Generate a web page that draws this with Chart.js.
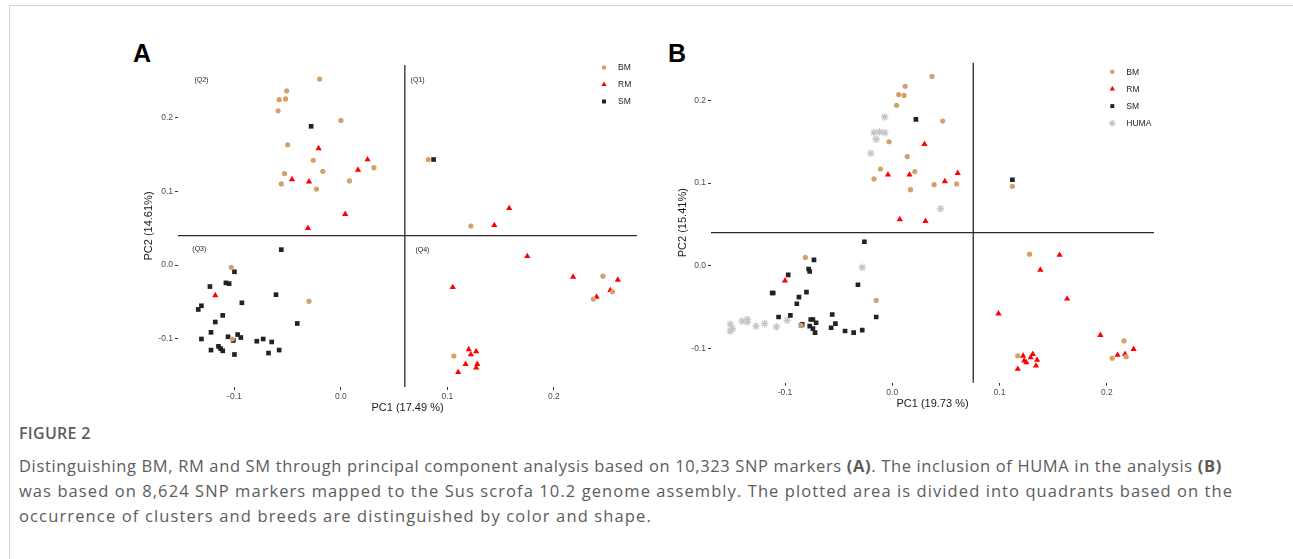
<!DOCTYPE html>
<html>
<head>
<meta charset="utf-8">
<script src="https://cdn.jsdelivr.net/npm/chart.js@4.4.1/dist/chart.umd.min.js"></script>
<style>
  html, body { margin: 0; padding: 0; background: #fff; }
  body { width: 1293px; height: 559px; position: relative; overflow: hidden; font-family: "Liberation Sans", Arial, sans-serif; }
  .frame { position: absolute; left: 9px; top: 5px; width: 1300px; height: 600px; border-top: 1.5px solid #d4d4d4; border-left: 1.5px solid #d4d4d4; }
  canvas { position: absolute; }
  .panel { position: absolute; font-weight: bold; font-size: 25px; color: #000; line-height: 1; }
  .cap { position: absolute; left: 19px; font-family: "Open Sans", "Noto Sans", sans-serif; color: #5c5c5c; white-space: nowrap; }
  .cap-title { top: 422px; font-size: 16px; font-weight: 600; letter-spacing: 0.3px; }
  .cap-text { top: 453px; font-size: 16.5px; line-height: 25px; }
  .cap-text span { display: block; }
</style>
</head>
<body>
<div class="frame"></div>
<div class="panel" style="left:133px; top:41px;">A</div>
<div class="panel" style="left:668px; top:41px;">B</div>
<canvas id="chartA" width="520" height="380" style="left:130px; top:40px;"></canvas>
<canvas id="chartB" width="560" height="380" style="left:660px; top:40px;"></canvas>
<div class="cap cap-title">FIGURE 2</div>
<div class="cap cap-text"><span style="letter-spacing:0.64px">Distinguishing BM, RM and SM through principal component analysis based on 10,323 SNP markers <b>(A)</b>. The inclusion of HUMA in the analysis <b>(B)</b></span><span style="letter-spacing:1.08px">was based on 8,624 SNP markers mapped to the Sus scrofa 10.2 genome assembly. The plotted area is divided into quadrants based on the</span><span style="letter-spacing:1.14px">occurrence of clusters and breeds are distinguished by color and shape.</span></div>

<script>
// panel A: PC1 / PC2 pairs
const bmA = [[-0.020,0.252],[-0.051,0.236],[-0.058,0.224],[-0.052,0.225],[-0.059,0.209],[0.000,0.196],[-0.050,0.163],[-0.026,0.142],[-0.017,0.127],[0.031,0.132],[-0.053,0.124],[-0.056,0.110],[0.008,0.114],[-0.023,0.103],[0.082,0.143],[0.122,0.053],[-0.103,-0.003],[-0.030,-0.049],[-0.102,-0.100],[0.106,-0.123],[0.246,-0.015],[0.237,-0.046],[0.255,-0.036]];
const rmA = [[-0.021,0.158],[0.025,0.143],[0.016,0.129],[-0.046,0.116],[-0.030,0.113],[0.004,0.069],[-0.031,0.050],[0.158,0.077],[0.144,0.054],[0.175,0.012],[-0.118,-0.041],[0.105,-0.030],[0.218,-0.016],[0.260,-0.020],[0.253,-0.034],[0.240,-0.043],[0.120,-0.114],[0.127,-0.117],[0.122,-0.121],[0.117,-0.134],[0.128,-0.134],[0.127,-0.139],[0.110,-0.145]];
const smA = [[-0.028,0.188],[0.087,0.143],[-0.056,0.021],[-0.100,-0.009],[-0.123,-0.029],[-0.108,-0.024],[-0.105,-0.025],[-0.061,-0.040],[-0.093,-0.051],[-0.131,-0.055],[-0.134,-0.060],[-0.111,-0.068],[-0.118,-0.077],[-0.041,-0.079],[-0.122,-0.091],[-0.131,-0.100],[-0.106,-0.097],[-0.101,-0.102],[-0.097,-0.094],[-0.094,-0.098],[-0.079,-0.103],[-0.073,-0.100],[-0.065,-0.104],[-0.115,-0.110],[-0.113,-0.113],[-0.111,-0.116],[-0.122,-0.115],[-0.058,-0.115],[-0.068,-0.119],[-0.100,-0.121]];

// panel B
const bmB = [[0.037,0.229],[0.012,0.217],[0.006,0.207],[0.011,0.206],[0.004,0.194],[0.047,0.175],[-0.003,0.150],[0.014,0.132],[-0.011,0.117],[0.021,0.114],[-0.017,0.105],[0.039,0.098],[0.060,0.099],[0.017,0.092],[0.112,0.096],[-0.081,0.010],[-0.015,-0.042],[-0.085,-0.072],[0.128,0.014],[0.117,-0.109],[0.216,-0.091],[0.205,-0.112],[0.218,-0.110]];
const rmB = [[0.030,0.147],[-0.004,0.110],[0.016,0.110],[0.061,0.112],[0.049,0.102],[0.007,0.056],[0.031,0.054],[-0.100,-0.018],[0.156,0.013],[0.138,-0.005],[0.163,-0.040],[0.099,-0.058],[0.194,-0.084],[0.225,-0.101],[0.217,-0.107],[0.210,-0.108],[0.122,-0.109],[0.131,-0.107],[0.129,-0.111],[0.123,-0.115],[0.135,-0.114],[0.125,-0.117],[0.134,-0.121],[0.117,-0.125]];
const smB = [[0.022,0.177],[0.112,0.104],[-0.026,0.029],[-0.073,0.007],[-0.078,-0.004],[-0.077,-0.007],[-0.097,-0.011],[-0.112,-0.033],[-0.111,-0.033],[-0.080,-0.032],[-0.087,-0.038],[-0.089,-0.046],[-0.032,-0.023],[-0.095,-0.060],[-0.106,-0.062],[-0.056,-0.059],[-0.053,-0.070],[-0.057,-0.075],[-0.084,-0.071],[-0.085,-0.072],[-0.076,-0.065],[-0.074,-0.065],[-0.077,-0.073],[-0.071,-0.069],[-0.074,-0.076],[-0.072,-0.081],[-0.015,-0.062],[-0.044,-0.079],[-0.036,-0.081],[-0.028,-0.078]];
const humaB = [[-0.007,0.180],[-0.017,0.161],[-0.012,0.162],[-0.007,0.161],[-0.015,0.153],[-0.020,0.136],[0.045,0.069],[-0.028,-0.002],[-0.098,-0.066],[-0.108,-0.074],[-0.119,-0.070],[-0.127,-0.073],[-0.135,-0.065],[-0.140,-0.067],[-0.135,-0.068],[-0.151,-0.071],[-0.151,-0.079],[-0.149,-0.076]];

const ticksA = [-0.1, 0.0, 0.1, 0.2];
const ticksB = [-0.1, 0.0, 0.1, 0.2];
const quadA = { x: 0.06, y: 0.04 };
const quadB = { x: 0.0755, y: 0.04 };
const quadLabels = [
  { text: '(Q1)', x: 0.072, y: 0.250 },
  { text: '(Q2)', x: -0.131, y: 0.251 },
  { text: '(Q3)', x: -0.133, y: 0.022 },
  { text: '(Q4)', x: 0.0765, y: 0.020 }
];

const toXY = arr => arr.map(p => ({ x: p[0], y: p[1] }));

const styles = {
  BM: { pointStyle: 'circle', pointRadius: 2.6, pointBackgroundColor: '#d8a068', pointBorderWidth: 0 },
  RM: { pointStyle: 'triangle', pointRadius: 3.6, pointBackgroundColor: '#ff0000', pointBorderWidth: 0 },
  SM: { pointStyle: 'rect', pointRadius: 3.3, pointBackgroundColor: '#222222', pointBorderWidth: 0 },
  HUMA: { pointStyle: 'star', pointRadius: 3.8, pointBackgroundColor: '#c6c6c6', pointBorderColor: '#c6c6c6', pointBorderWidth: 1.3 }
};

function makeSet(label, data) {
  return Object.assign({ label: label, data: toXY(data) }, styles[label]);
}

// quadrant lines + labels
const quadrantPlugin = {
  id: 'quadrants',
  beforeDatasetsDraw(chart, args, opts) {
    const { ctx, chartArea, scales } = chart;
    const px = scales.x.getPixelForValue(opts.x);
    const py = scales.y.getPixelForValue(opts.y);
    ctx.save();
    ctx.strokeStyle = '#2b2b2b';
    ctx.lineWidth = 1.3;
    ctx.beginPath();
    ctx.moveTo(px, chartArea.top);
    ctx.lineTo(px, chartArea.bottom);
    ctx.moveTo(chartArea.left, py);
    ctx.lineTo(chartArea.right, py);
    ctx.stroke();
    if (opts.labels) {
      ctx.fillStyle = '#222';
      ctx.font = '7px "Liberation Sans", Arial, sans-serif';
      ctx.textAlign = 'center';
      ctx.textBaseline = 'middle';
      opts.labels.forEach(l => {
        ctx.fillText(l.text, scales.x.getPixelForValue(l.x), scales.y.getPixelForValue(l.y));
      });
    }
    ctx.restore();
  }
};

// ggplot-like legend drawn inside the panel
const keyPlugin = {
  id: 'key',
  afterDraw(chart, args, opts) {
    const ctx = chart.ctx;
    ctx.save();
    chart.data.datasets.forEach((ds, i) => {
      const y = opts.top + i * opts.step;
      ctx.fillStyle = ds.pointBackgroundColor;
      ctx.strokeStyle = ds.pointBorderColor || ds.pointBackgroundColor;
      ctx.lineWidth = ds.pointBorderWidth;
      Chart.helpers.drawPoint(ctx, { pointStyle: ds.pointStyle, radius: ds.pointRadius * 0.85, borderWidth: ds.pointBorderWidth, rotation: 0 }, opts.left, y);
      ctx.fillStyle = '#222';
      ctx.font = '8.5px "Liberation Sans", Arial, sans-serif';
      ctx.textAlign = 'left';
      ctx.textBaseline = 'middle';
      ctx.fillText(ds.label, opts.left + 14, y + 0.5);
    });
    ctx.restore();
  }
};

function axis(min, max, ticks, title, fitSize, isX, titlePad) {
  return {
    type: 'linear',
    min: min,
    max: max,
    afterBuildTicks: s => { s.ticks = ticks.map(v => ({ value: v })); },
    afterFit: s => { if (isX) { s.height = fitSize; } else { s.width = fitSize; } },
    ticks: {
      color: '#4d4d4d',
      font: { family: '"Liberation Sans", Arial, sans-serif', size: 8.5 },
      padding: 2,
      maxRotation: 0,
      callback: v => v.toFixed(1)
    },
    grid: { display: true, drawOnChartArea: false, drawTicks: true, tickLength: 3, color: '#333' },
    border: { display: false },
    title: {
      display: true,
      text: title,
      color: '#1a1a1a',
      font: { family: '"Liberation Sans", Arial, sans-serif', size: 11 },
      padding: titlePad
    }
  };
}

Chart.defaults.animation = false;

new Chart(document.getElementById('chartA'), {
  type: 'scatter',
  data: { datasets: [makeSet('BM', bmA), makeSet('RM', rmA), makeSet('SM', smA)] },
  options: {
    responsive: false,
    devicePixelRatio: 1,
    layout: { padding: { left: 0, top: 25, right: 13, bottom: 0 } },
    scales: {
      x: axis(-0.153, 0.278, ticksA, 'PC1 (17.49 %)', 33, true, { top: 0, bottom: 5 }),
      y: axis(-0.165, 0.271, ticksA, 'PC2 (14.61%)', 48, false, { top: 12.7, bottom: 0 })
    },
    plugins: {
      legend: { display: false },
      tooltip: { enabled: false },
      quadrants: { x: quadA.x, y: quadA.y, labels: quadLabels },
      key: { left: 474, top: 27.5, step: 17 }
    }
  },
  plugins: [quadrantPlugin, keyPlugin]
});

new Chart(document.getElementById('chartB'), {
  type: 'scatter',
  data: { datasets: [makeSet('BM', bmB), makeSet('RM', rmB), makeSet('SM', smB), makeSet('HUMA', humaB)] },
  options: {
    responsive: false,
    devicePixelRatio: 1,
    layout: { padding: { left: 0, top: 22.7, right: 66, bottom: 0 } },
    scales: {
      x: axis(-0.169, 0.244, ticksB, 'PC1 (19.73 %)', 37.3, true, { top: 0, bottom: 9 }),
      y: axis(-0.1415, 0.2456, ticksB, 'PC2 (15.41%)', 51, false, { top: 16, bottom: 0 })
    },
    plugins: {
      legend: { display: false },
      tooltip: { enabled: false },
      quadrants: { x: quadB.x, y: quadB.y },
      key: { left: 452.3, top: 31.7, step: 17.2 }
    }
  },
  plugins: [quadrantPlugin, keyPlugin]
});
</script>
</body>
</html>
